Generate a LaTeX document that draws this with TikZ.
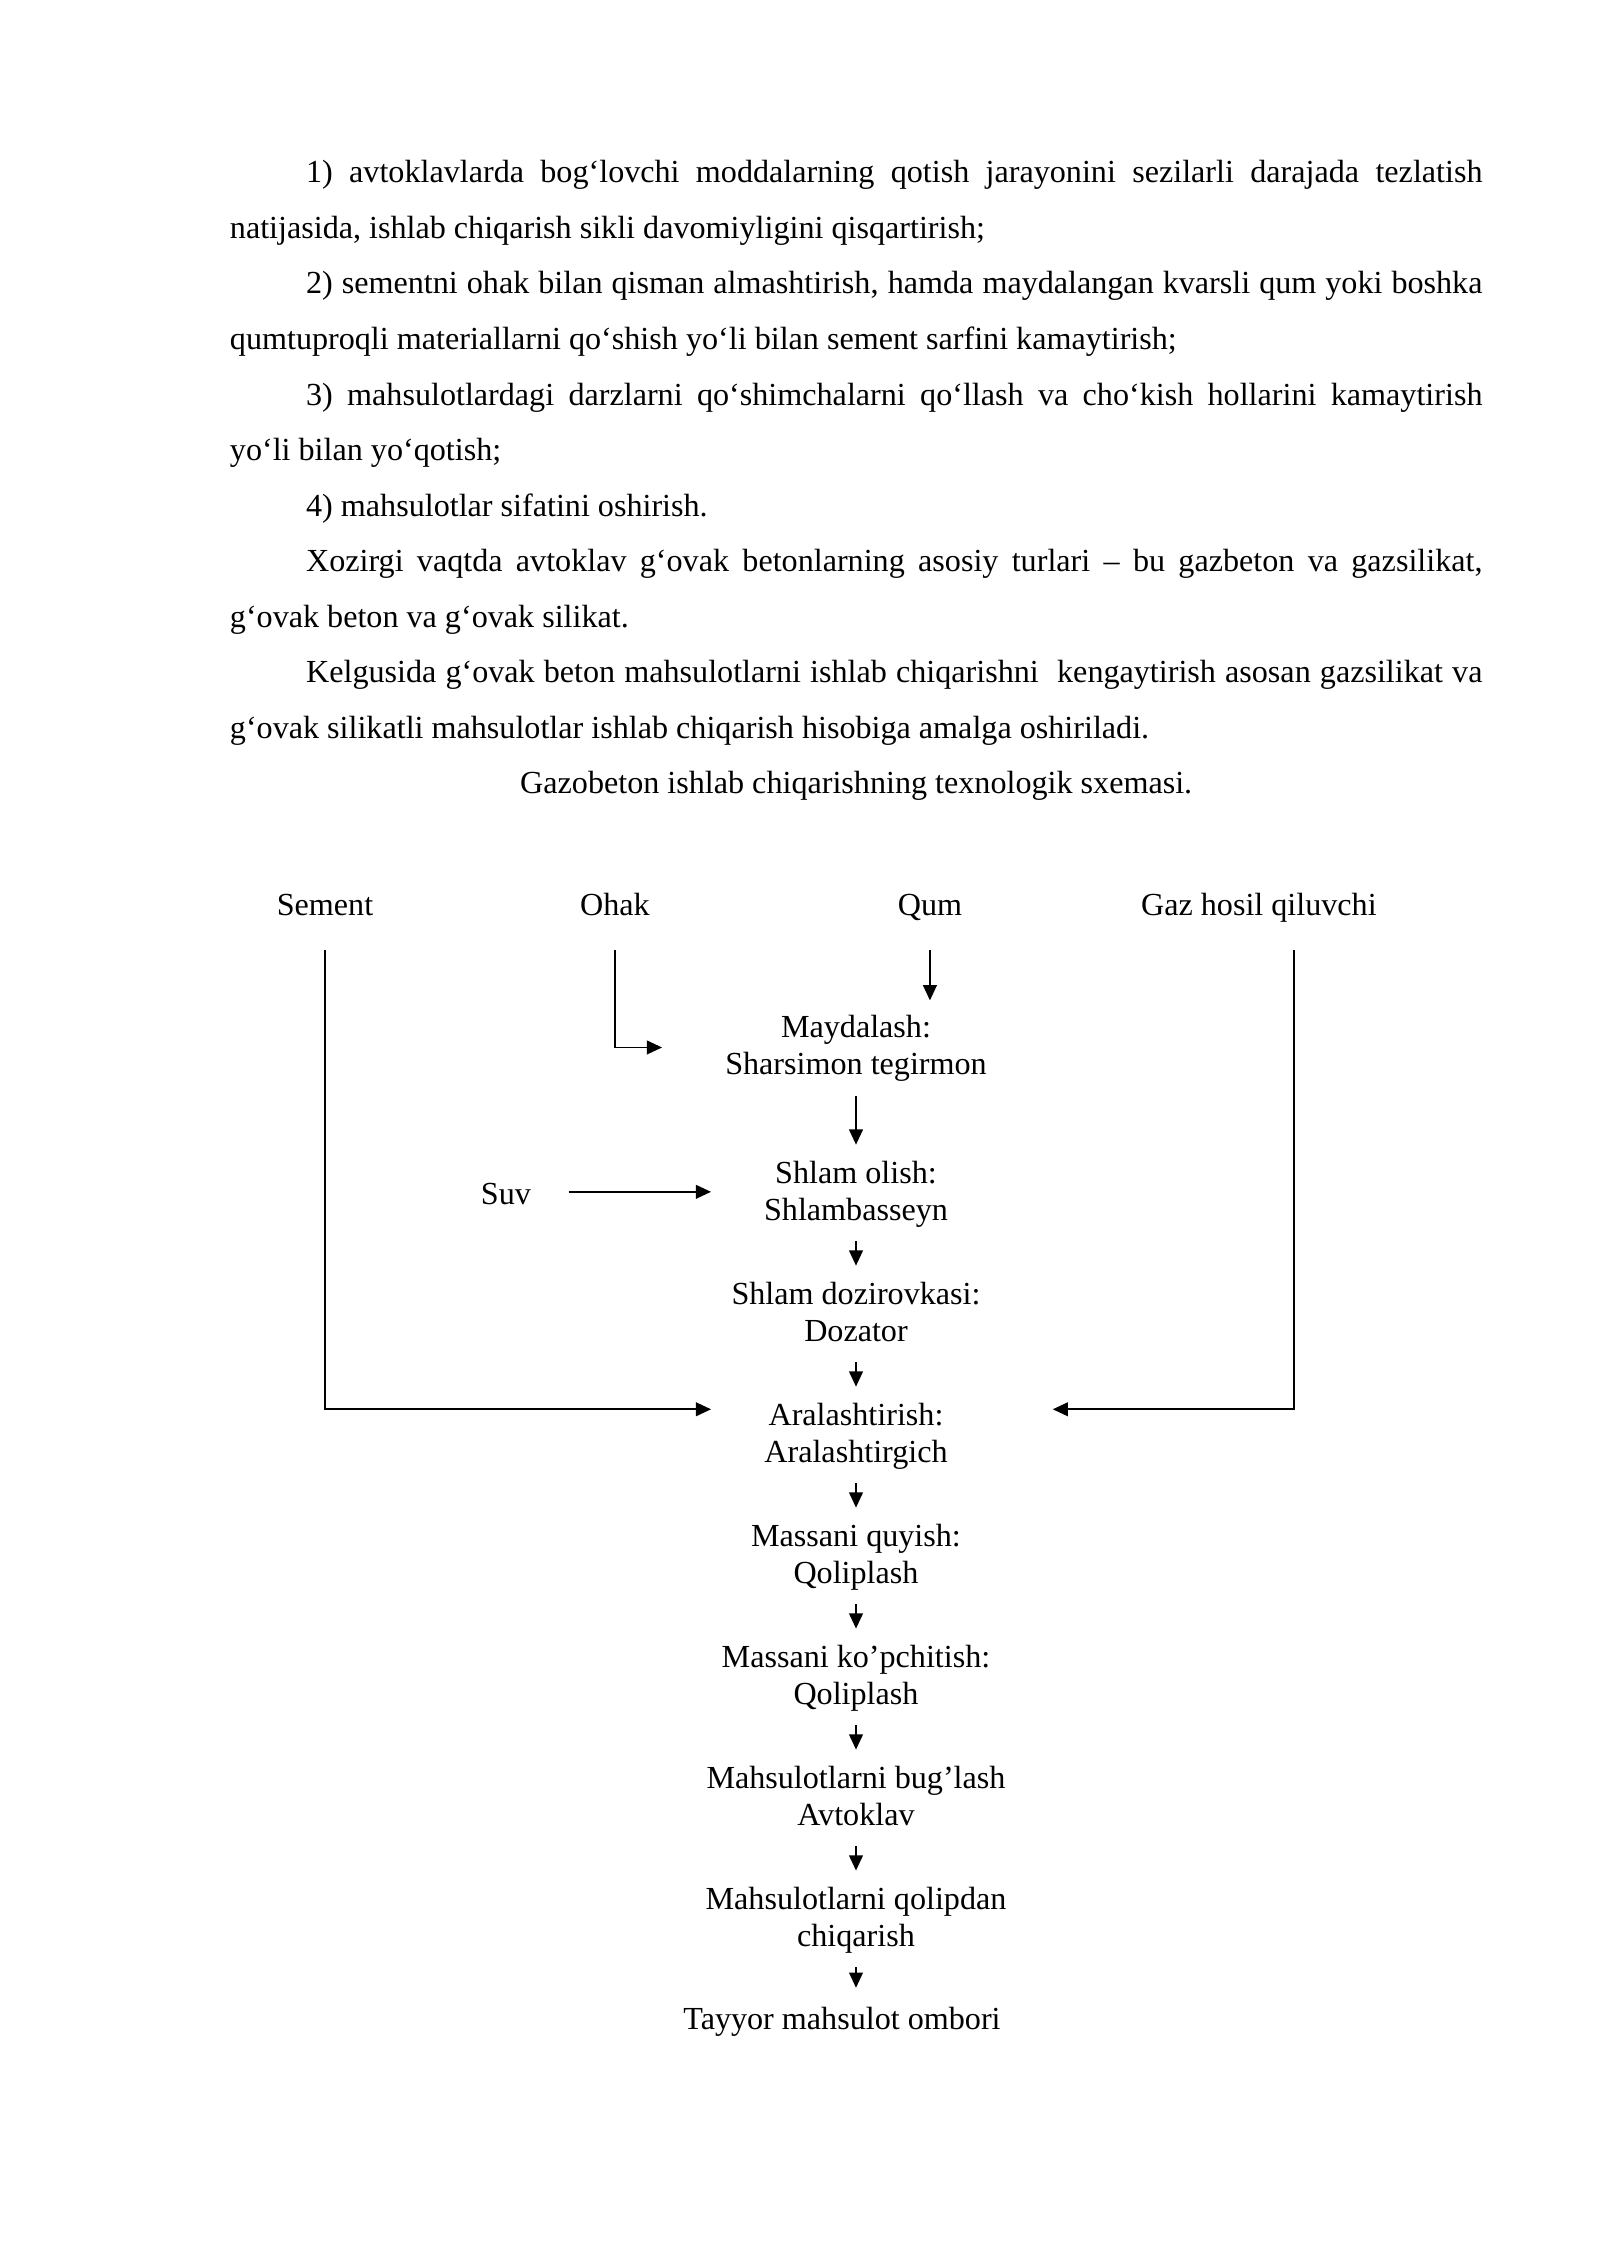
\documentclass[tikz,border=0pt]{standalone}
\usepackage{fontspec}
\setmainfont{Liberation Serif}
\usetikzlibrary{arrows.meta}

\begin{document}
\begin{tikzpicture}[x=0.13125mm, y=-0.13125mm, node distance=15.88mm,
  line width=0.7pt, >={Triangle[length=2mm,width=1.8mm]},
  matnblok/.style={text width=164.4mm, align=justify, inner sep=0pt,
    font=\fontsize{12pt}{20.74pt}\selectfont},
  kirish/.style={inner sep=0pt, text height=8pt, text depth=2pt,
    font=\fontsize{12pt}{13.8pt}\selectfont},
  etap/.style={align=center, inner sep=0pt, minimum width=37.8mm,
    font=\fontsize{12pt}{13.8pt}\selectfont,
    execute at begin node=\strut, execute at end node=\strut},
  oqim/.style={->, shorten <=1.2mm, shorten >=2mm}]
\useasboundingbox (0,0) rectangle (1600,2262);

% matn
\fill node[matnblok, anchor=north west] (matn) at (229,143.1) {%
\setlength{\parindent}{10mm}\setlength{\parskip}{0pt}%
\hspace*{10mm}\strut 1) avtoklavlarda bog‘lovchi moddalarning qotish jarayonini sezilarli darajada tezlatish\linebreak
natijasida, ishlab chiqarish sikli davomiyligini qisqartirish;\par
2) sementni ohak bilan qisman almashtirish, hamda maydalangan kvarsli qum yoki boshka\linebreak
qumtuproqli materiallarni qo‘shish yo‘li bilan sement sarfini kamaytirish;\par
3) mahsulotlardagi darzlarni qo‘shimchalarni qo‘llash va cho‘kish hollarini kamaytirish\linebreak
yo‘li bilan yo‘qotish;\par
4) mahsulotlar sifatini oshirish.\par
Xozirgi vaqtda avtoklav g‘ovak betonlarning asosiy turlari – bu gazbeton va gazsilikat,\linebreak
g‘ovak beton va g‘ovak silikat.\par
Kelgusida g‘ovak beton mahsulotlarni ishlab chiqarishni\ \ kengaytirish asosan gazsilikat va\linebreak
g‘ovak silikatli mahsulotlar ishlab chiqarish hisobiga amalga oshiriladi.\par
{\centering\noindent Gazobeton ishlab chiqarishning texnologik sxemasi.\par}};

% kirishlar
\fill node[kirish] (1-1) at (325,907) {Sement};
\fill node[kirish, node distance=38.06mm, right of=1-1] (1-2) {Ohak};
\fill node[kirish, node distance=41.34mm, right of=1-2] (1-3) {Qum};
\fill node[kirish, node distance=43.18mm, right of=1-3] (1-4) {Gaz hosil qiluvchi};

% jarayon
\fill node[etap] (2-1) at (856,1050.5) {Maydalash:\\Sharsimon tegirmon};
\fill node[etap, node distance=19.1mm, below of=2-1] (2-2) {Shlam olish:\\Shlambasseyn};
\fill node[etap, below of=2-2] (2-3) {Shlam dozirovkasi:\\Dozator};
\fill node[etap, below of=2-3] (2-4) {Aralashtirish:\\Aralashtirgich};
\fill node[etap, below of=2-4] (2-5) {Massani quyish:\\Qoliplash};
\fill node[etap, below of=2-5] (2-6) {Massani ko’pchitish:\\Qoliplash};
\fill node[etap, below of=2-6] (2-7) {Mahsulotlarni bug’lash\\Avtoklav};
\fill node[etap, below of=2-7] (2-8) {Mahsulotlarni qolipdan\\chiqarish};
\fill node[etap, node distance=13.19mm, below of=2-8, xshift=-1.84mm] (2-9) {Tayyor mahsulot ombori};

\fill node[kirish, node distance=45.94mm, left of=2-2] (1-5) {Suv};

\draw[->, shorten <=3.75mm] (1-1) |- ([yshift=3.77mm]2-4.west);
\draw[->, shorten <=3.75mm, shorten >=6.43mm] (1-2) |- ([yshift=0.4mm]2-1.west);
\draw[->, shorten <=3.75mm, shorten >=1.84mm] (1-3) -- (1-3 |- 2-1.north);
\draw[->, shorten <=3.75mm, shorten >=6.8mm] ([xshift=4.6mm]1-4.south) |- ([yshift=3.77mm]2-4.east);
\draw[->, shorten <=4.86mm] ([yshift=0.55mm]1-5.east) -- ([yshift=0.55mm]2-2.west);

\draw[oqim] (2-1) -- (2-2);
\draw[oqim] (2-2) -- (2-3);
\draw[oqim] (2-3) -- (2-4);
\draw[oqim] (2-4) -- (2-5);
\draw[oqim] (2-5) -- (2-6);
\draw[oqim] (2-6) -- (2-7);
\draw[oqim] (2-7) -- (2-8);
\draw[oqim] (2-8) -- (2-8 |- 2-9.north);
\end{tikzpicture}
\end{document}
